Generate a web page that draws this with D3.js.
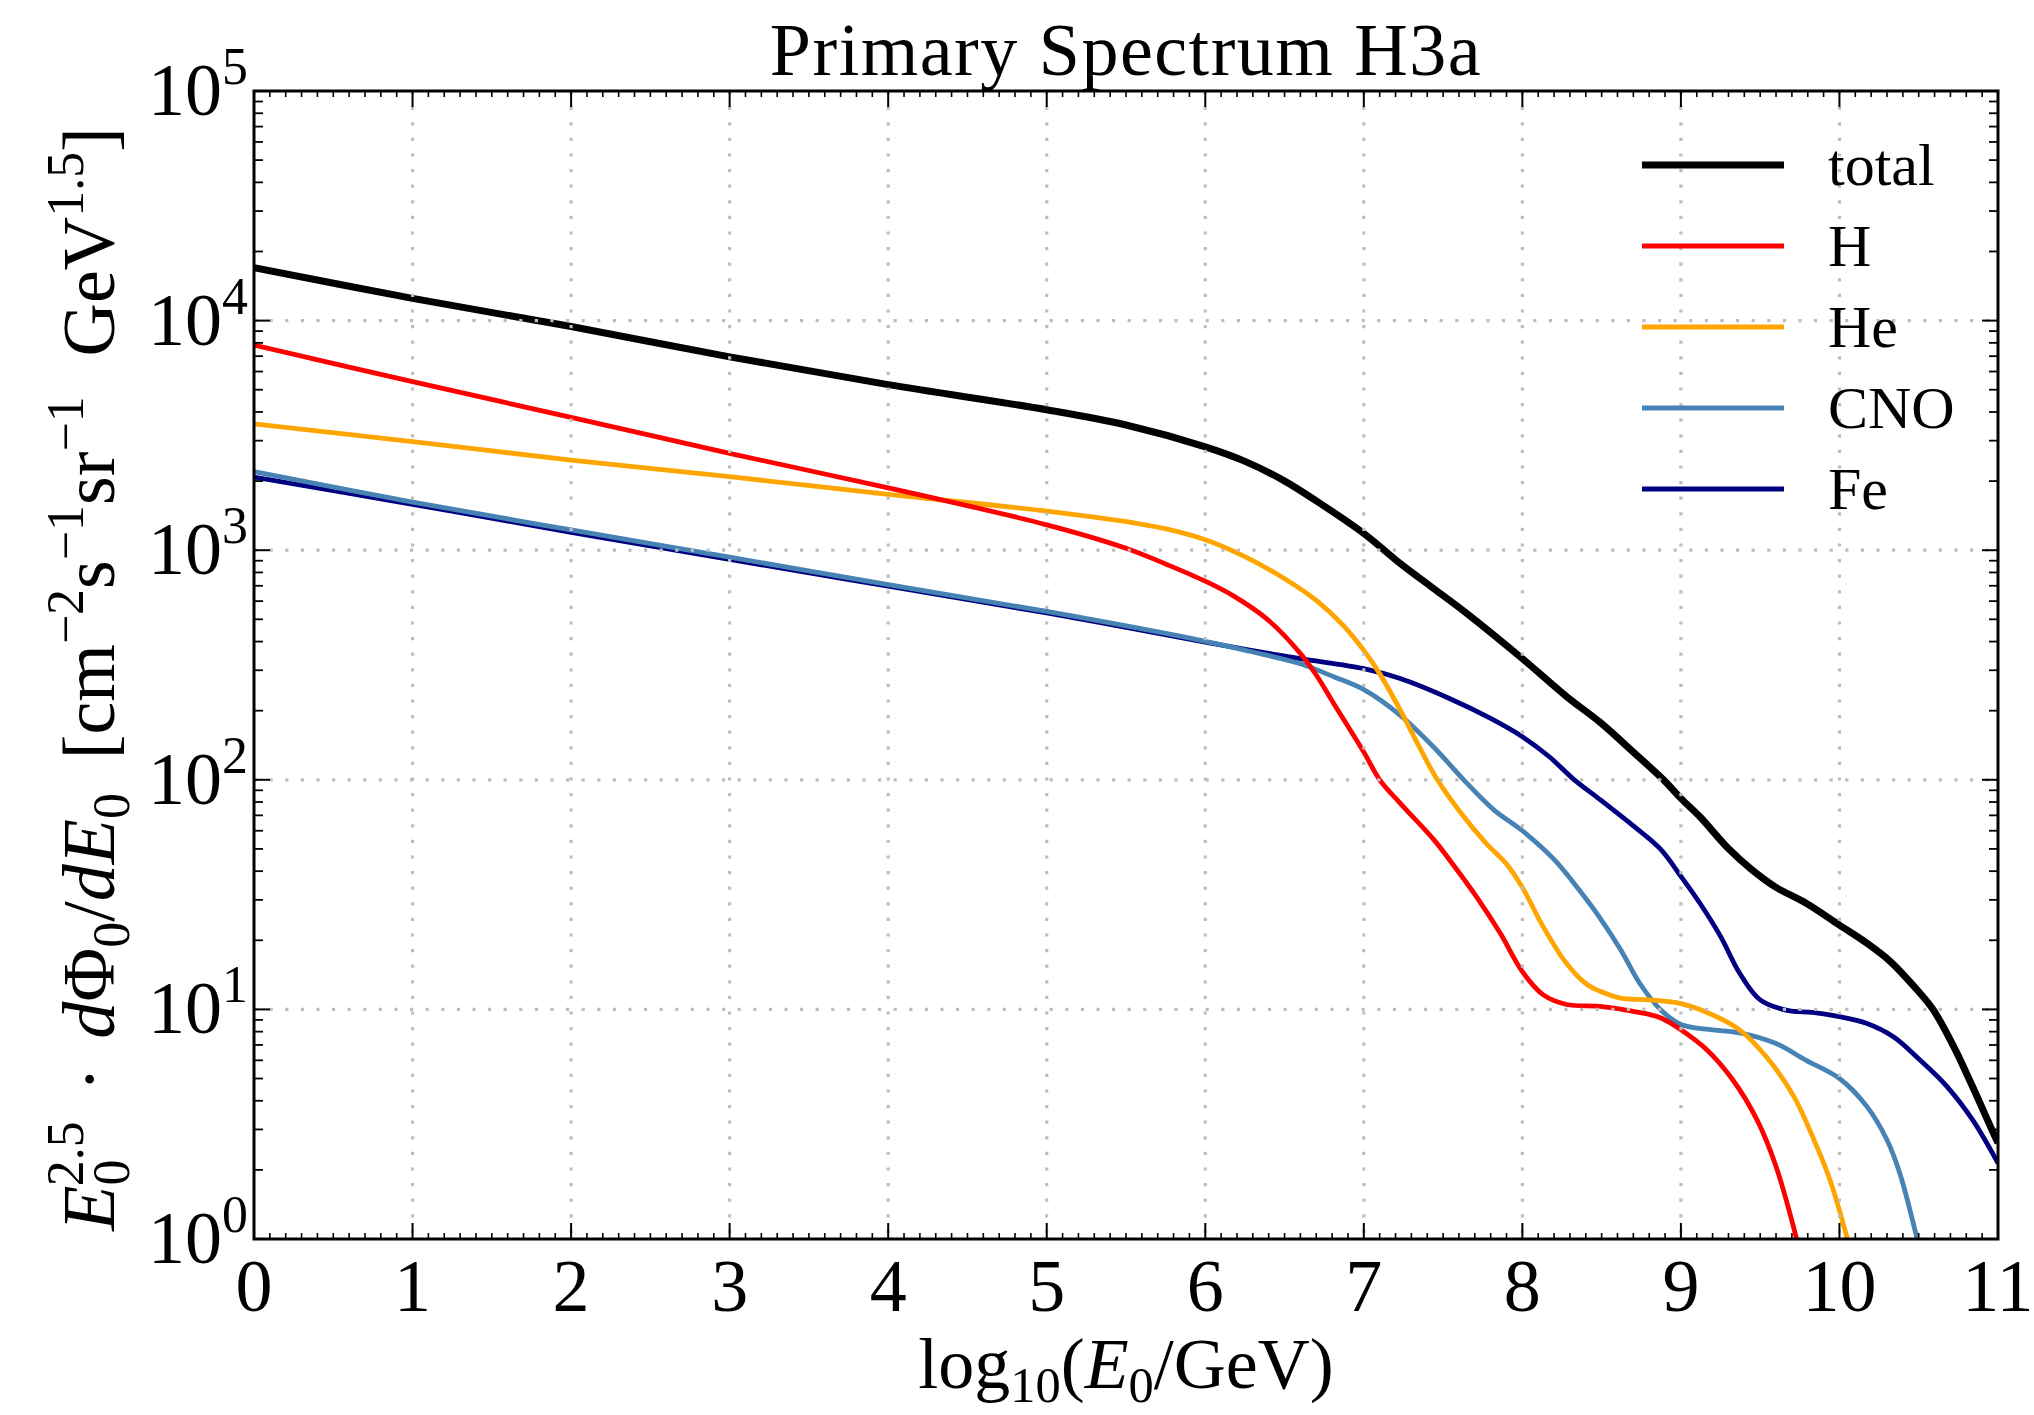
<!DOCTYPE html>
<html>
<head>
<meta charset="utf-8">
<script src="https://cdn.jsdelivr.net/npm/d3@7"></script>
<style>
  body { margin: 0; background: #fff; }
  text { font-family: "Liberation Serif", "DejaVu Serif", serif; fill: #000; }
</style>
</head>
<body>
<div id="chart"></div>
<script>
// log10(E0/GeV) positions and E^2.5 * flux values
var totalE    = [0, 1, 2, 3, 4, 5, 5.5, 6, 6.24, 6.49, 6.7, 7, 7.23, 7.44, 7.65, 8, 8.28, 8.49, 8.7, 8.89, 9, 9.12, 9.29, 9.44, 9.6, 9.79, 10, 10.17, 10.32, 10.47, 10.59, 10.72, 10.84, 10.97, 11];
var totalFlux = [17000, 12500, 9420, 6950, 5260, 4090, 3510, 2820, 2455, 2020, 1640, 1183, 875, 681, 530, 337, 230, 178, 132, 100, 83, 69, 51, 41, 34, 29, 23.3, 19.5, 16.2, 12.6, 10, 6.9, 4.6, 2.9, 2.62];

var hE    = [0, 1, 2, 3, 4, 5, 5.5, 5.76, 6, 6.18, 6.39, 6.6, 6.7, 6.81, 7, 7.1, 7.23, 7.44, 7.56, 7.71, 7.86, 8, 8.13, 8.28, 8.49, 8.7, 8.87, 9, 9.16, 9.33, 9.48, 9.6, 9.73];
var hFlux = [7830, 5420, 3790, 2640, 1870, 1290, 1020, 865, 733, 631, 501, 355, 286, 215, 132, 100, 79, 55, 43, 31, 21.5, 14.6, 11.6, 10.5, 10.3, 9.8, 9.2, 8.15, 6.7, 4.9, 3.3, 2.07, 1.0];

var heE    = [0, 1, 2, 3, 4, 5, 5.55, 5.8, 6, 6.24, 6.49, 6.7, 6.87, 7, 7.1, 7.23, 7.35, 7.46, 7.61, 7.77, 7.9, 8, 8.13, 8.28, 8.41, 8.49, 8.62, 8.8, 9, 9.18, 9.37, 9.54, 9.71, 9.83, 9.94, 10.05];
var heFlux = [3550, 2970, 2470, 2090, 1750, 1480, 1315, 1216, 1110, 944, 759, 605, 471, 366, 290, 201, 139, 101, 72, 53, 43, 34, 23, 15.8, 12.8, 12.0, 11.2, 11.0, 10.6, 9.6, 8.15, 6.2, 4.2, 2.8, 1.81, 1.0];

var cnoE    = [0, 1, 2, 3, 4, 5, 6, 6.28, 6.6, 6.81, 7, 7.23, 7.44, 7.63, 7.82, 8, 8.2, 8.36, 8.49, 8.62, 8.74, 8.87, 9, 9.16, 9.37, 9.6, 9.79, 10, 10.17, 10.3, 10.38, 10.49];
var cnoFlux = [2200, 1620, 1225, 933, 708, 541, 401, 363, 320, 281, 247, 191, 139, 100, 74, 60, 45, 33, 25, 18.2, 13, 10, 8.6, 8.2, 7.9, 7.1, 6.0, 5.0, 3.8, 2.7, 1.94, 1.0];

var feE    = [0, 1, 2, 3, 4, 5, 6, 6.28, 6.6, 7, 7.23, 7.54, 7.8, 8, 8.17, 8.32, 8.49, 8.7, 8.87, 9, 9.12, 9.25, 9.37, 9.5, 9.67, 9.83, 10, 10.17, 10.34, 10.51, 10.68, 10.84, 11];
var feFlux = [2080, 1585, 1197, 912, 697, 533, 398, 367, 337, 305, 276, 226, 185, 154, 126, 101, 82, 63, 50, 38, 29, 20.8, 14.4, 11.0, 9.9, 9.7, 9.3, 8.7, 7.6, 6.0, 4.6, 3.3, 2.14];

var seriesNames  = ["total", "H", "He", "CNO", "Fe"];
var seriesColors = ["#000000", "#ff0000", "#ffa500", "#4682b4", "#000080"];
var xTicks = [0, 1, 2, 3, 4, 5, 6, 7, 8, 9, 10, 11];
var yTickExp = [0, 1, 2, 3, 4, 5];

var series = [
    {name: "total", e: totalE, f: totalFlux},
    {name: "H",     e: hE,     f: hFlux},
    {name: "He",    e: heE,    f: heFlux},
    {name: "CNO",   e: cnoE,   f: cnoFlux},
    {name: "Fe",    e: feE,    f: feFlux}
];

var W = 2034, H = 1415;
var margin = {top: 91, right: 36, bottom: 176, left: 254},
    width = W - margin.left - margin.right,
    height = H - margin.top - margin.bottom;

var x = d3.scaleLinear().domain([0, 11]).range([0, width]);
var y = d3.scaleLog().domain([1, 1e5]).range([height, 0]);

var svg = d3.select("#chart").append("svg")
    .attr("width", W).attr("height", H)
    .style("background", "#fff");

var g = svg.append("g")
    .attr("transform", "translate(" + margin.left + "," + margin.top + ")");

g.append("clipPath").attr("id", "plotClip")
  .append("rect").attr("width", width).attr("height", height);

// write small mathtext like 10^5 with tspans
function mathText(sel, parts, size) {
    var cur = 0;
    parts.forEach(function(p) {
        var target = p.s === 1 ? -0.42 * size : (p.s === -1 ? 0.2 * size : 0);
        var ts = sel.append("tspan")
            .attr("dy", target - cur)
            .style("font-size", (p.s ? 0.7 * size : size) + "px")
            .text(p.t);
        if (p.i) ts.style("font-style", "italic");
        if (p.dx) ts.attr("dx", p.dx);
        cur = target;
    });
    if (cur !== 0) sel.append("tspan").attr("dy", -cur).text("");
}

// curves
var line = d3.line()
    .x(function(d) { return x(d[0]); })
    .y(function(d) { return y(d[1]); })
    .curve(d3.curveCatmullRom.alpha(0.5));

var curves = g.append("g").attr("clip-path", "url(#plotClip)");
series.slice().reverse().forEach(function(s) {
    var idx = seriesNames.indexOf(s.name);
    var pts = s.e.map(function(e, i) { return [e, s.f[i]]; });
    curves.append("path")
        .attr("d", line(pts))
        .style("fill", "none")
        .style("stroke", seriesColors[idx])
        .style("stroke-width", s.name === "total" ? 7 : 4.8)
        .style("stroke-linejoin", "round");
});

// dotted grid (drawn over the curves, like the original)
var grid = g.append("g")
    .style("stroke", "#bdbdbd")
    .style("stroke-width", 3.2)
    .style("stroke-dasharray", "3.2,12.4");
xTicks.slice(1, -1).forEach(function(t) {
    grid.append("line").attr("x1", x(t)).attr("x2", x(t)).attr("y1", 0).attr("y2", height);
});
yTickExp.slice(1, -1).forEach(function(e) {
    var v = Math.pow(10, e);
    grid.append("line").attr("x1", 0).attr("x2", width).attr("y1", y(v)).attr("y2", y(v));
});

// ticks, inward on all sides
var ticks = g.append("g").style("stroke", "#000");
xTicks.forEach(function(t) {
    ticks.append("line").attr("x1", x(t)).attr("x2", x(t)).attr("y1", height).attr("y2", height - 16).style("stroke-width", 2);
    ticks.append("line").attr("x1", x(t)).attr("x2", x(t)).attr("y1", 0).attr("y2", 16).style("stroke-width", 2);
});
d3.range(1, 110).forEach(function(k) {
    if (k % 10 === 0) return;
    var t = k / 10;
    ticks.append("line").attr("x1", x(t)).attr("x2", x(t)).attr("y1", height).attr("y2", height - 6).style("stroke-width", 1.6);
    ticks.append("line").attr("x1", x(t)).attr("x2", x(t)).attr("y1", 0).attr("y2", 6).style("stroke-width", 1.6);
});
yTickExp.forEach(function(e) {
    var v = Math.pow(10, e);
    ticks.append("line").attr("x1", 0).attr("x2", 16).attr("y1", y(v)).attr("y2", y(v)).style("stroke-width", 2);
    ticks.append("line").attr("x1", width).attr("x2", width - 16).attr("y1", y(v)).attr("y2", y(v)).style("stroke-width", 2);
    if (e === 5) return;
    for (var m = 2; m < 10; m++) {
        var mv = m * v;
        ticks.append("line").attr("x1", 0).attr("x2", 9).attr("y1", y(mv)).attr("y2", y(mv)).style("stroke-width", 1.8);
        ticks.append("line").attr("x1", width).attr("x2", width - 9).attr("y1", y(mv)).attr("y2", y(mv)).style("stroke-width", 1.8);
    }
});

// frame
g.append("rect")
    .attr("width", width).attr("height", height)
    .style("fill", "none").style("stroke", "#000").style("stroke-width", 3);

// tick labels
var tickSize = 74;
xTicks.forEach(function(t) {
    g.append("text")
        .attr("x", x(t)).attr("y", height + 72)
        .style("text-anchor", "middle")
        .style("font-size", tickSize + "px")
        .text(t);
});
yTickExp.forEach(function(e) {
    var lab = g.append("text")
        .attr("x", -6).attr("y", y(Math.pow(10, e)) + 24)
        .style("text-anchor", "end")
        .style("font-size", tickSize + "px");
    mathText(lab, [{t: "10"}, {t: String(e), s: 1}], tickSize);
});

// title
svg.append("text")
    .attr("x", margin.left + width / 2).attr("y", 75)
    .style("text-anchor", "middle")
    .style("font-size", "74px")
    .style("letter-spacing", "1.5px")
    .text("Primary Spectrum H3a");

// x label
var xl = svg.append("text")
    .attr("x", margin.left + width / 2).attr("y", 1388)
    .style("text-anchor", "middle")
    .style("font-size", "72px");
mathText(xl, [{t: "log"}, {t: "10", s: -1}, {t: "("}, {t: "E", i: true}, {t: "0", s: -1}, {t: "/GeV)"}], 72);

// y label
var ys = 74;
var yl = svg.append("text")
    .attr("transform", "translate(114," + (margin.top + height / 2 + 14) + ") rotate(-90)")
    .style("text-anchor", "middle")
    .style("font-size", ys + "px");
mathText(yl, [
    {t: "E", i: true}, {t: "0", s: -1}, {t: "2.5", s: 1, dx: -0.36 * ys},
    {t: "·", dx: 30}, {t: "d", i: true, dx: 28}, {t: "Φ"}, {t: "0", s: -1}, {t: "/"},
    {t: "dE", i: true}, {t: "0", s: -1},
    {t: "[cm", dx: 34}, {t: "−2", s: 1}, {t: "s"}, {t: "−1", s: 1}, {t: "sr"}, {t: "−1", s: 1},
    {t: "GeV", dx: 40}, {t: "1.5", s: 1}, {t: "]"}
], ys);

// legend
var legendY = [165, 246, 327, 408, 489];
var legend = svg.append("g");
seriesNames.forEach(function(n, i) {
    legend.append("line")
        .attr("x1", 1642).attr("x2", 1784)
        .attr("y1", legendY[i]).attr("y2", legendY[i])
        .style("stroke", seriesColors[i])
        .style("stroke-width", i === 0 ? 7 : 4.8);
    legend.append("text")
        .attr("x", 1828).attr("y", legendY[i] + 20)
        .style("font-size", "60px")
        .text(n);
});
</script>
</body>
</html>
